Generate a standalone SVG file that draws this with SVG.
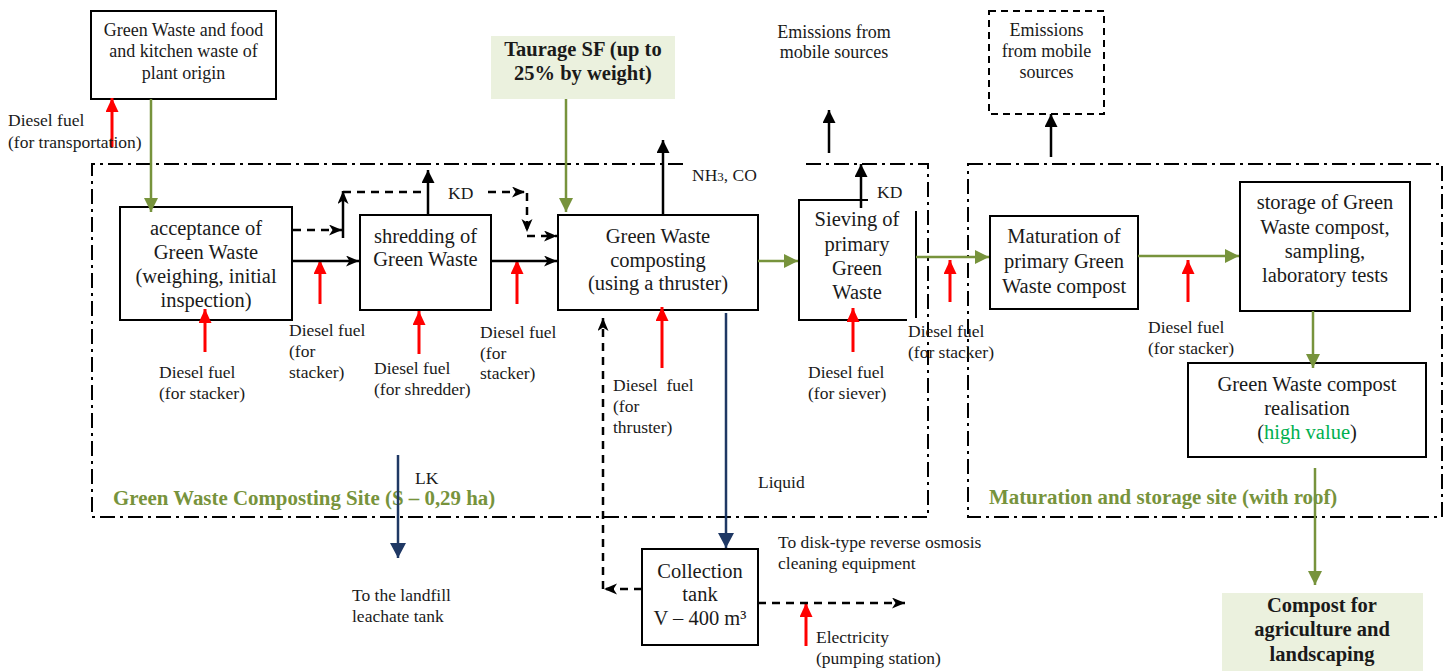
<svg xmlns="http://www.w3.org/2000/svg" width="1446" height="671" viewBox="0 0 1446 671">
<style>
text{font-family:"Liberation Serif","Times New Roman",serif;fill:#1a1a1a}
.t20{font-size:20.5px;text-anchor:middle}
.t18{font-size:18px;text-anchor:middle}
.a{font-size:17.5px}
.b{font-size:20.5px;font-weight:bold;text-anchor:middle}
.site{font-size:20.9px;font-weight:bold;fill:#77933C}
.box{fill:#fff;stroke:#000;stroke-width:2}
.dbox{fill:#fff;stroke:#000;stroke-width:2;stroke-dasharray:7 5}
.cont{fill:none;stroke:#000;stroke-width:2;stroke-dasharray:15 5 3 5}
.gfill{fill:#EBF1DE}
.g{stroke:#77933C;stroke-width:2.5;fill:none;marker-end:url(#ag)}
.r{stroke:#FF0000;stroke-width:3;fill:none;marker-end:url(#ar)}
.k{stroke:#000;stroke-width:2.5;fill:none;marker-end:url(#ak)}
.ku{stroke:#000;stroke-width:2.5;fill:none;marker-end:url(#akt)}
.kd{stroke:#000;stroke-width:2.5;fill:none;stroke-dasharray:8 6;marker-end:url(#ak)}
.kdn{stroke:#000;stroke-width:2.5;fill:none;stroke-dasharray:8 6}
.bl{stroke:#1F3864;stroke-width:2.5;fill:none;marker-end:url(#ab)}
</style>
<defs>
<marker id="ag" markerUnits="userSpaceOnUse" markerWidth="16" markerHeight="16" refX="14" refY="7" orient="auto"><path d="M0,0 L14,7 L0,14 z" fill="#77933C"/></marker>
<marker id="ar" markerUnits="userSpaceOnUse" markerWidth="16" markerHeight="14" refX="14" refY="6.5" orient="auto"><path d="M0,0 L14,6.5 L0,13 z" fill="#FF0000"/></marker>
<marker id="ak" markerUnits="userSpaceOnUse" markerWidth="14" markerHeight="12" refX="13" refY="5.5" orient="auto"><path d="M0,0 L13,5.5 L0,11 L3.5,5.5 z" fill="#000"/></marker>
<marker id="akt" markerUnits="userSpaceOnUse" markerWidth="14" markerHeight="14" refX="13" refY="6.5" orient="auto"><path d="M0,0 L13,6.5 L0,13 z" fill="#000"/></marker>
<marker id="ab" markerUnits="userSpaceOnUse" markerWidth="16" markerHeight="18" refX="15" refY="8" orient="auto"><path d="M0,0 L15,8 L0,16 z" fill="#1F3864"/></marker>
</defs>

<g id="containers">
<path class="cont" d="M683,164 L92,164 L92,517 L928,517 L928,164 L803,164"/>
<rect class="cont" x="968" y="164" width="474" height="353"/>
<text class="site" x="113" y="505">Green Waste Composting Site (S – 0,29 ha)</text>
<text class="site" x="989" y="504">Maturation and storage site (with roof)</text>
</g>

<g id="source">
<rect class="box" x="91" y="11" width="185" height="88"/>
<text class="t18" x="183.5" y="36">Green Waste and food</text>
<text class="t18" x="183.5" y="57">and kitchen waste of</text>
<text class="t18" x="183.5" y="79">plant origin</text>
</g>

<g id="taurage">
<rect class="gfill" x="491" y="36" width="184" height="63"/>
<text class="b" x="583" y="56">Taurage SF (up to</text>
<text class="b" x="583" y="80">25% by weight)</text>
</g>

<g id="emissions-top">
<text class="t18" x="834" y="38">Emissions from</text>
<text class="t18" x="834" y="58">mobile sources</text>
</g>

<g id="emissions-box">
<rect class="dbox" x="989" y="11" width="115" height="103"/>
<text class="t18" x="1046.5" y="36">Emissions</text>
<text class="t18" x="1046.5" y="57">from mobile</text>
<text class="t18" x="1046.5" y="78">sources</text>
</g>

<g id="acceptance">
<rect class="box" x="120" y="207" width="172" height="113"/>
<text class="t20" x="206" y="235">acceptance of</text>
<text class="t20" x="206" y="259">Green Waste</text>
<text class="t20" x="206" y="283">(weighing, initial</text>
<text class="t20" x="206" y="307">inspection)</text>
</g>

<g id="shredding">
<rect class="box" x="360" y="215" width="131" height="95"/>
<text class="t20" x="425.5" y="243">shredding of</text>
<text class="t20" x="425.5" y="266">Green Waste</text>
</g>

<g id="composting">
<rect class="box" x="558" y="215" width="200" height="95"/>
<text class="t20" x="658" y="243">Green Waste</text>
<text class="t20" x="658" y="267">composting</text>
<text class="t20" x="658" y="290">(using a thruster)</text>
</g>

<g id="sieving">
<path d="M868,200 L799,200 L799,320 L907,320" fill="none" stroke="#000" stroke-width="2"/>
<path d="M916,211 L916,318" fill="none" stroke="#000" stroke-width="2"/>
<text class="t20" x="857" y="226">Sieving of</text>
<text class="t20" x="857" y="251">primary</text>
<text class="t20" x="857" y="275">Green</text>
<text class="t20" x="857" y="299">Waste</text>
</g>

<g id="maturation">
<rect class="box" x="990" y="216" width="148" height="93"/>
<text class="t20" x="1064" y="243">Maturation of</text>
<text class="t20" x="1064" y="268">primary Green</text>
<text class="t20" x="1064" y="293">Waste compost</text>
</g>

<g id="storage">
<rect class="box" x="1240" y="182" width="170" height="129"/>
<text class="t20" x="1325" y="209">storage of  Green</text>
<text class="t20" x="1325" y="234">Waste compost,</text>
<text class="t20" x="1325" y="258">sampling,</text>
<text class="t20" x="1325" y="282">laboratory tests</text>
</g>

<g id="realisation">
<rect class="box" x="1188" y="363" width="238" height="94"/>
<text class="t20" x="1307" y="391">Green Waste compost</text>
<text class="t20" x="1307" y="415">realisation</text>
<text class="t20" x="1307" y="439">(<tspan style="fill:#00B050">high value</tspan>)</text>
</g>

<g id="collection-tank">
<rect class="box" x="642" y="549" width="116" height="96"/>
<text class="t20" x="700" y="578">Collection</text>
<text class="t20" x="700" y="601">tank</text>
<text class="t20" x="700" y="625">V – 400 m³</text>
</g>

<g id="compost-product">
<rect class="gfill" x="1222" y="593" width="201" height="78"/>
<text class="b" x="1322" y="612">Compost for</text>
<text class="b" x="1322" y="636">agriculture and</text>
<text class="b" x="1322" y="661">landscaping</text>
</g>

<g id="connectors">
<path class="g" d="M151,99 L151,212"/>
<path class="g" d="M566,99 L566,212"/>
<path class="g" d="M758,261 L798,261"/>
<path class="g" d="M916,257 L989,257"/>
<path class="g" d="M1138,256 L1239,256"/>
<path class="g" d="M1313,311 L1313,368"/>
<path class="g" d="M1315,468 L1315,585"/>

<path class="r" d="M112,147 L112,98"/>
<path class="r" d="M205,352 L205,309"/>
<path class="r" d="M320,304 L320,260"/>
<path class="r" d="M419,354 L419,311"/>
<path class="r" d="M517,304 L517,260"/>
<path class="r" d="M662,368 L662,307"/>
<path class="r" d="M853,352 L853,308"/>
<path class="r" d="M950,302 L950,260"/>
<path class="r" d="M1188,302 L1188,260"/>
<path class="r" d="M806,646 L806,603"/>

<path class="k" d="M293,261 L359,261"/>
<path class="k" d="M491,261 L557,261"/>
<path class="k" d="M343,238 L343,191"/>
<path class="ku" d="M428,215 L428,170"/>
<path class="ku" d="M663,215 L663,140"/>
<path class="ku" d="M861,208 L861,164"/>
<path class="ku" d="M829,153 L829,110"/>
<path class="ku" d="M1051,157 L1051,114"/>

<path class="kd" d="M293,230 L342,230"/>
<path class="kdn" d="M343,192 L428,192"/>
<path class="kd" d="M488,192 L525,192"/>
<path class="kd" d="M527,193 L527,232"/>
<path class="kd" d="M527,236 L557,236"/>
<path class="kd" d="M603,589 L603,318"/>
<path class="kd" d="M642,589 L604,589"/>
<path class="kd" d="M758,603 L905,603"/>

<path class="bl" d="M726,313 L726,548"/>
<path class="bl" d="M398,455 L398,558"/>
</g>

<g id="labels">
<text class="a" x="8" y="126">Diesel fuel</text>
<text class="a" x="8" y="148">(for transportation)</text>
<text class="a" x="159" y="378">Diesel fuel</text>
<text class="a" x="159" y="399">(for stacker)</text>
<text class="a" x="289" y="336">Diesel fuel</text>
<text class="a" x="289" y="357">(for</text>
<text class="a" x="289" y="378">stacker)</text>
<text class="a" x="374" y="374">Diesel fuel</text>
<text class="a" x="374" y="395">(for shredder)</text>
<text class="a" x="480" y="338">Diesel fuel</text>
<text class="a" x="480" y="359">(for</text>
<text class="a" x="480" y="379">stacker)</text>
<text class="a" x="613" y="391" xml:space="preserve">Diesel  fuel</text>
<text class="a" x="613" y="412">(for</text>
<text class="a" x="613" y="433">thruster)</text>
<text class="a" x="808" y="378">Diesel fuel</text>
<text class="a" x="808" y="399">(for siever)</text>
<text class="a" x="908" y="337">Diesel fuel</text>
<text class="a" x="908" y="358">(for stacker)</text>
<text class="a" x="1148" y="333">Diesel fuel</text>
<text class="a" x="1148" y="354">(for stacker)</text>
<text class="a" x="692" y="181">NH<tspan style="font-size:13px">3</tspan>, CO</text>
<text class="a" x="448" y="199">KD</text>
<text class="a" x="877" y="198">KD</text>
<text class="a" x="758" y="488">Liquid</text>
<text class="a" x="415" y="484">LK</text>
<text class="a" x="352" y="601">To the landfill</text>
<text class="a" x="352" y="622">leachate tank</text>
<text class="a" x="778" y="548">To disk-type reverse osmosis</text>
<text class="a" x="778" y="569">cleaning equipment</text>
<text class="a" x="816" y="643">Electricity</text>
<text class="a" x="816" y="664">(pumping station)</text>
</g>
</svg>
